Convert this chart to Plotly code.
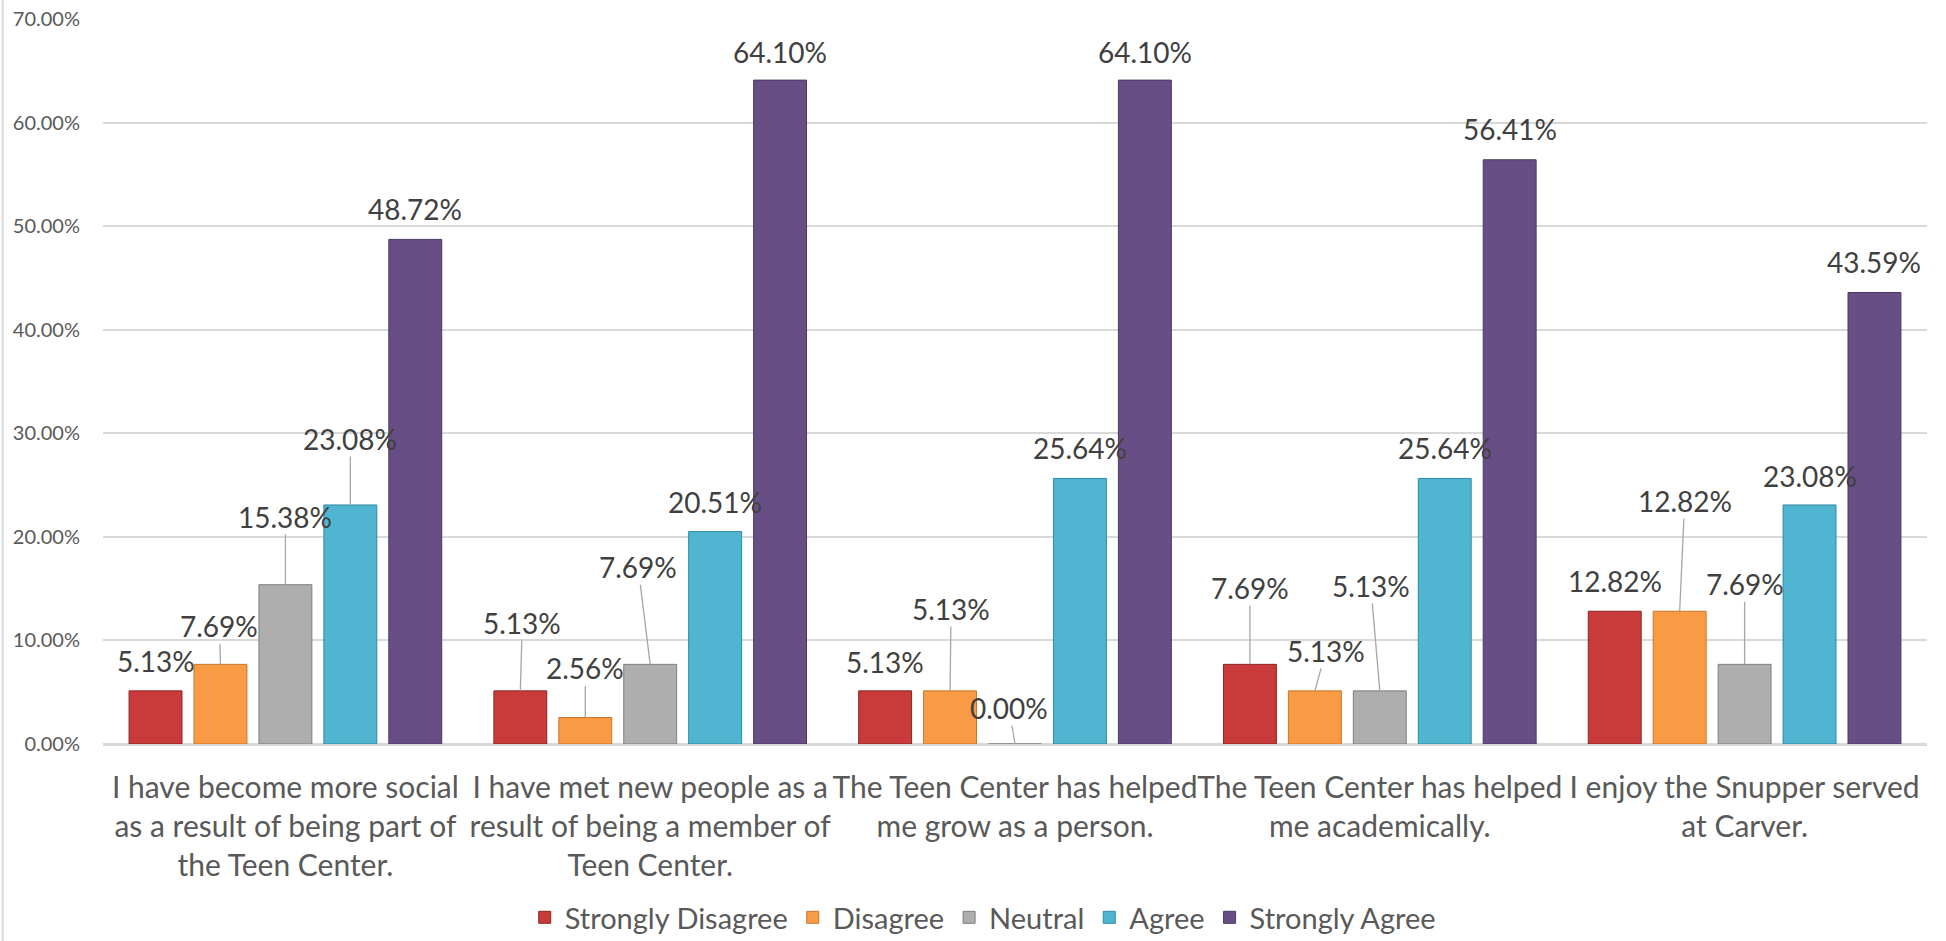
import plotly.graph_objects as go

# survey statements (wrapped like the original axis labels)
categories = [
    "I have become more social<br>as a result of being part of<br>the Teen Center.",
    "I have met new people as a<br>result of being a member of<br>Teen Center.",
    "The Teen Center has helped<br>me grow as a person.",
    "The Teen Center has helped<br>me academically.",
    "I enjoy the Snupper served<br>at Carver.",
]

series_names = ["Strongly Disagree", "Disagree", "Neutral", "Agree", "Strongly Agree"]

strongly_disagree = [0.0513, 0.0513, 0.0513, 0.0769, 0.1282]
disagree = [0.0769, 0.0256, 0.0513, 0.0513, 0.1282]
neutral = [0.1538, 0.0769, 0.0000, 0.0513, 0.0769]
agree = [0.2308, 0.2051, 0.2564, 0.2564, 0.2308]
strongly_agree = [0.4872, 0.6410, 0.6410, 0.5641, 0.4359]

all_values = [strongly_disagree, disagree, neutral, agree, strongly_agree]

colors = ["#C93B3B", "#F99B45", "#AEAEAE", "#4FB5D0", "#674F85"]
edges = ["#8E2424", "#C8762E", "#7F7F7F", "#2F8BA3", "#4A3862"]

# label nudges in px (dx, dy up, leader line?) per [category][series]
label_nudge = [
    [(0, 30, False), (-1, 38, True), (0, 68, True), (0, 66, True), (0, 30, False)],
    [(2, 68, True), (0, 49, True), (-12, 97, True), (0, 30, False), (0, 28, False)],
    [(0, 29, False), (1, 82, True), (-6, 36, True), (0, 30, False), (0, 28, False)],
    [(0, 76, True), (11, 40, True), (-9, 105, True), (0, 30, False), (0, 31, False)],
    [(0, 30, False), (5, 110, True), (0, 80, True), (0, 29, False), (0, 31, False)],
]

FONT = "Lato, Roboto, sans-serif"
bargap = 0.11
slot = (1 - bargap) / len(series_names)

fig = go.Figure()
for name, vals, c, e in zip(series_names, all_values, colors, edges):
    fig.add_trace(go.Bar(
        name=name, x=categories, y=vals,
        marker=dict(color=c, line=dict(color=e, width=1)),
        hoverinfo="skip"))

annotations = []
for j in range(len(categories)):
    for i, vals in enumerate(all_values):
        dx, dy, line = label_nudge[j][i]
        xpos = j + (i - 2) * slot
        txt = f"{vals[j] * 100:.2f}%"
        font = dict(family=FONT, size=28, color="#404040")
        if line:
            annotations.append(dict(
                x=xpos, y=vals[j], xref="x", yref="y", text=txt, font=font,
                showarrow=True, arrowhead=0, arrowwidth=1.3, arrowcolor="#A6A6A6",
                ax=dx, ay=-dy, standoff=0, borderpad=0))
        else:
            annotations.append(dict(
                x=xpos, y=vals[j], xref="x", yref="y", text=txt, font=font,
                showarrow=False, xshift=dx, yshift=dy, yanchor="middle"))

fig.update_layout(
    width=1946, height=941,
    margin=dict(l=103, r=19, t=19, b=197, autoexpand=False),
    paper_bgcolor="white", plot_bgcolor="white",
    barmode="group", bargap=bargap, bargroupgap=0.185,
    font=dict(family=FONT, color="#595959"),
    annotations=annotations,
    legend=dict(orientation="h", xref="container", yref="container",
                x=0.505, y=0.025, xanchor="center", yanchor="middle",
                font=dict(family=FONT, size=29, color="#595959"),
                itemclick=False, traceorder="normal"),
    showlegend=True,
)

fig.update_yaxes(range=[0, 0.70], dtick=0.10, tickformat=".2%", automargin=False,
                 showgrid=True, gridcolor="#D9D9D9", gridwidth=1.5,
                 zeroline=True, zerolinecolor="#D9D9D9", zerolinewidth=2,
                 showline=False, ticks="", ticklabelstandoff=22,
                 tickfont=dict(family=FONT, size=20, color="#595959"))
fig.update_xaxes(showline=True, linecolor="#D9D9D9", linewidth=2, automargin=False,
                 ticks="", ticklabelstandoff=16, tickangle=0,
                 tickfont=dict(family=FONT, size=30, color="#595959"))

# thin chart-area border on the left edge
fig.add_shape(type="line", xref="paper", yref="paper",
              x0=-0.055, x1=-0.055, y0=-0.28, y1=1.03,
              line=dict(color="#D9D9D9", width=2))

# drop the browser's default page margin so the figure fills the window
fig.write_html("out.html", config={"displayModeBar": False},
               post_script="document.body.style.margin='0';")
